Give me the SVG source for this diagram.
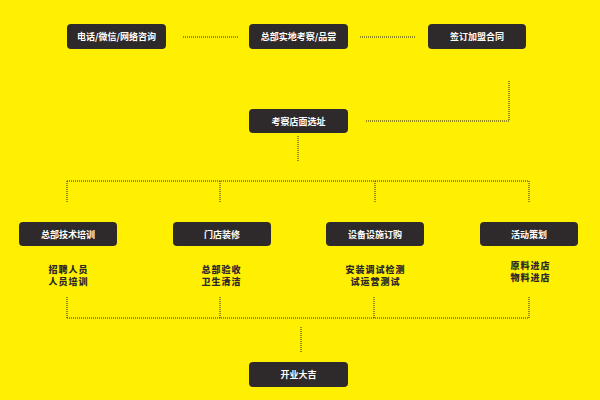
<svg xmlns="http://www.w3.org/2000/svg" width="600" height="400" viewBox="0 0 600 400">
<defs>
<style>
.bg{fill:#FFEF00}
.box{fill:#2E2A2B}
.bt{fill:#FFFFFF;font-family:"Noto Sans CJK SC","Noto Sans",sans-serif;font-weight:bold;font-size:9px;text-anchor:middle;dominant-baseline:central}
.st{fill:#2E2A2B;font-family:"Noto Sans CJK SC","Noto Sans",sans-serif;font-weight:900;font-size:9px;letter-spacing:1px;text-anchor:middle;dominant-baseline:central}
.ln{fill:none;stroke:#2E2A2B;stroke-width:1;stroke-dasharray:1 1}
</style>
</defs>
<rect class="bg" x="0" y="0" width="600" height="400"/>
<g id="connectors">
<line class="ln" x1="183" y1="37" x2="238" y2="37"/>
<line class="ln" x1="360" y1="37" x2="416" y2="37"/>
<polyline class="ln" points="509,81 509,121 365,121"/>
<line class="ln" x1="298" y1="136" x2="298" y2="162"/>
<line class="ln" x1="67" y1="181" x2="529" y2="181"/>
<line class="ln" x1="67" y1="181" x2="67" y2="202"/>
<line class="ln" x1="220" y1="181" x2="220" y2="202"/>
<line class="ln" x1="375" y1="181" x2="375" y2="202"/>
<line class="ln" x1="529" y1="181" x2="529" y2="202"/>
<line class="ln" x1="67" y1="318" x2="529" y2="318"/>
<line class="ln" x1="67" y1="297" x2="67" y2="318"/>
<line class="ln" x1="220" y1="297" x2="220" y2="318"/>
<line class="ln" x1="374" y1="297" x2="374" y2="318"/>
<line class="ln" x1="529" y1="297" x2="529" y2="318"/>
<line class="ln" x1="301" y1="327" x2="301" y2="353"/>
</g>
<g id="n1"><rect class="box" x="67" y="24" width="99" height="25" rx="4"/><text class="bt" x="116.5" y="36.5">电话/微信/网络咨询</text></g>
<g id="n2"><rect class="box" x="249" y="24" width="99" height="25" rx="4"/><text class="bt" x="298.5" y="36.5">总部实地考察/品尝</text></g>
<g id="n3"><rect class="box" x="428" y="24" width="98" height="25" rx="4"/><text class="bt" x="477" y="36.5">签订加盟合同</text></g>
<g id="n4"><rect class="box" x="249" y="109" width="99" height="24" rx="4"/><text class="bt" x="298.5" y="121">考察店面选址</text></g>
<g id="n5"><rect class="box" x="19" y="222" width="98" height="24" rx="4"/><text class="bt" x="68" y="234">总部技术培训</text><text class="st" x="68.5" y="269.5">招聘人员</text><text class="st" x="68.5" y="281">人员培训</text></g>
<g id="n6"><rect class="box" x="173" y="222" width="98" height="24" rx="4"/><text class="bt" x="222" y="234">门店装修</text><text class="st" x="221.5" y="269.5">总部验收</text><text class="st" x="221.5" y="281">卫生清洁</text></g>
<g id="n7"><rect class="box" x="326" y="222" width="98" height="24" rx="4"/><text class="bt" x="375" y="234">设备设施订购</text><text class="st" x="375.5" y="269.5">安装调试检测</text><text class="st" x="375.5" y="281">试运营测试</text></g>
<g id="n8"><rect class="box" x="480" y="222" width="98" height="24" rx="4"/><text class="bt" x="529" y="234">活动策划</text><text class="st" x="530.5" y="265.5">原料进店</text><text class="st" x="530.5" y="277">物料进店</text></g>
<g id="n9"><rect class="box" x="249" y="362" width="99" height="25" rx="4"/><text class="bt" x="298.5" y="374.5">开业大吉</text></g>
</svg>
